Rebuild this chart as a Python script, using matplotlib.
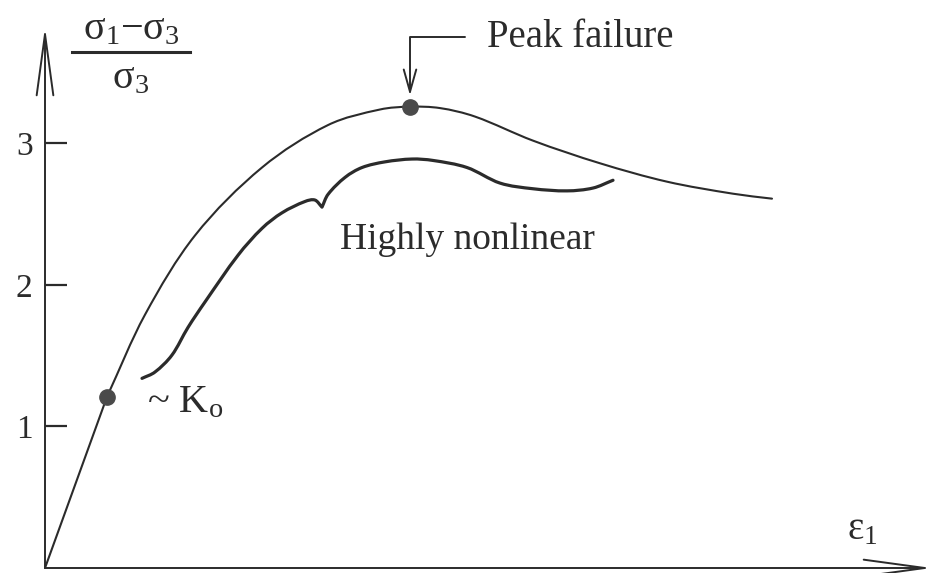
import matplotlib
matplotlib.use("Agg")
import numpy as np
import matplotlib.pyplot as plt
from matplotlib.path import Path
from matplotlib.patches import PathPatch
from matplotlib.lines import Line2D

plt.rcParams["font.family"] = ["Liberation Serif", "DejaVu Serif"]
plt.rcParams["mathtext.fontset"] = "custom"
plt.rcParams["mathtext.rm"] = "Liberation Serif"
plt.rcParams["mathtext.it"] = "Liberation Serif:italic"

# Stress-strain curve: principal stress ratio vs axial strain
strain_main = [0.0, 0.62, 1.00, 1.50, 2.17, 2.83, 3.35, 3.65, 3.95, 4.30,
               4.88, 5.55, 6.22, 6.88, 7.27]
ratio_main = [0.0, 1.21, 1.79, 2.35, 2.83, 3.13, 3.24, 3.26, 3.25, 3.19,
              3.02, 2.86, 2.73, 2.645, 2.61]

# Highly nonlinear stress path (with a kink near strain 2.77)
strain_nl = [0.97, 1.10, 1.27, 1.43, 1.60, 1.93, 2.17, 2.37, 2.60, 2.70,
             2.77, 2.83, 3.00, 3.17, 3.40, 3.67, 3.88, 4.22, 4.55, 4.88, 5.22,
             5.48, 5.68]
ratio_nl = [1.34, 1.385, 1.505, 1.70, 1.88, 2.21, 2.40, 2.51, 2.59, 2.60,
            2.55, 2.64, 2.76, 2.83, 2.87, 2.89, 2.88, 2.83, 2.72, 2.68, 2.665,
            2.685, 2.74]
nl_kink_index = 10

# Marked points
k0_point = (0.62, 1.21)
peak_point = (3.65, 3.26)

y_ticks = [1, 2, 3]
y_tick_labels = ["1", "2", "3"]


def smooth_path(xs, ys, corners=(), straight=()):
    """Cubic Bezier path through the points (Catmull-Rom tangents).
    Indices in `corners` keep a sharp corner; segments starting at an
    index in `straight` are drawn as straight lines."""
    p = np.column_stack([xs, ys]).astype(float)
    n = len(p)
    tan_in = np.zeros_like(p)
    tan_out = np.zeros_like(p)
    for i in range(n):
        prev_p = p[i - 1] if i > 0 else p[i]
        next_p = p[i + 1] if i < n - 1 else p[i]
        if i in corners or i == 0 or i == n - 1:
            tan_in[i] = p[i] - prev_p
            tan_out[i] = next_p - p[i]
        else:
            # scale tangents by neighbouring chord lengths for uneven spacing
            d0 = np.hypot(*(p[i] - prev_p))
            d1 = np.hypot(*(next_p - p[i]))
            t = (next_p - prev_p) / (d0 + d1)
            tan_in[i] = t * d0
            tan_out[i] = t * d1
    verts = [p[0]]
    codes = [Path.MOVETO]
    for i in range(n - 1):
        if i in straight:
            verts.append(p[i + 1])
            codes.append(Path.LINETO)
            continue
        verts += [p[i] + tan_out[i] / 3.0, p[i + 1] - tan_in[i + 1] / 3.0, p[i + 1]]
        codes += [Path.CURVE4] * 3
    return Path(verts, codes)


W, H = 933, 573
fig = plt.figure(figsize=(W / 100, H / 100), dpi=100)
ax = fig.add_axes([45 / W, 5 / H, (932 - 45) / W, (568 - 27) / H])
ax.set_xlim(0, 8.87)
ax.set_ylim(0, 3.823)

for s in ax.spines.values():
    s.set_visible(False)

ink = "#2b2b2b"

# Axes with open arrowheads
arrow_kw = dict(arrowstyle="->,head_length=4.4,head_width=0.6", color=ink,
                lw=1.4, mutation_scale=10, shrinkA=0, shrinkB=0)
ax.annotate("", xy=(1, 0), xytext=(0, 0), xycoords="axes fraction",
            textcoords="axes fraction", arrowprops=arrow_kw, annotation_clip=False)
ax.annotate("", xy=(0, 1), xytext=(0, 0), xycoords="axes fraction",
            textcoords="axes fraction", arrowprops=arrow_kw, annotation_clip=False)

ax.set_xticks([])
ax.set_yticks(y_ticks)
ax.set_yticklabels(y_tick_labels)
ax.tick_params(axis="y", direction="in", length=16, width=1.6, color=ink,
               labelsize=24, labelcolor=ink, pad=9)

# Curves
ax.add_patch(PathPatch(smooth_path(strain_main, ratio_main, corners=(1,), straight=(0,)),
                       fill=False, edgecolor=ink, lw=1.5, clip_on=False,
                       capstyle="round", joinstyle="round"))
ax.add_patch(PathPatch(smooth_path(strain_nl, ratio_nl, corners=(nl_kink_index,)),
                       fill=False, edgecolor=ink, lw=2.3, clip_on=False,
                       capstyle="round", joinstyle="round"))

ax.plot(*k0_point, "o", color="#4a4a4a", ms=11, clip_on=False, zorder=5)
ax.plot(*peak_point, "o", color="#4a4a4a", ms=11, clip_on=False, zorder=5)

# Labels
ax.text(4.42, 3.75, "Peak failure", fontsize=28, color=ink, va="center", ha="left")
ax.annotate("", xy=(3.65, 3.34), xytext=(4.20, 3.75),
            arrowprops=dict(arrowstyle="->,head_length=1.6,head_width=0.45",
                            connectionstyle="angle,angleA=180,angleB=90,rad=0",
                            color=ink, lw=1.4, mutation_scale=10,
                            shrinkA=0, shrinkB=0),
            annotation_clip=False)
ax.text(2.95, 2.32, "Highly nonlinear", fontsize=27, color=ink, va="center", ha="left")
ax.text(1.02, 1.17, r"~ K$_{\mathrm{o}}$", fontsize=29, color=ink,
        va="center", ha="left")

# Ordinate label as a stacked fraction
fig.text(131 / W, 1 - 30 / H, r"σ$_{1}$−σ$_{3}$", fontsize=29, color=ink,
         ha="center", va="center")
fig.add_artist(Line2D([72 / W, 190 / W], [1 - 52 / H, 1 - 52 / H],
                      color=ink, lw=2.2))
fig.text(131 / W, 1 - 79 / H, r"σ$_{3}$", fontsize=29, color=ink,
         ha="center", va="center")

fig.text(862 / W, 1 - 530 / H, r"ε$_{1}$", fontsize=28, color=ink,
         ha="center", va="center")

fig.savefig("out.png", dpi=100, facecolor="white")
